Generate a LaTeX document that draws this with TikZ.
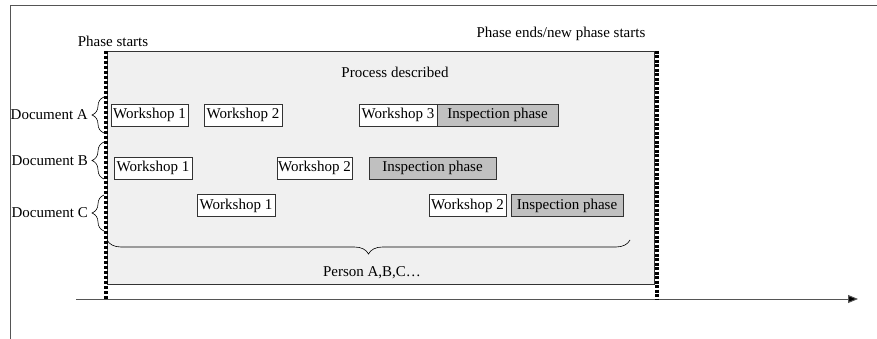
\documentclass[tikz,border=0pt]{standalone}
\usepackage{fontspec}
\setmainfont{Liberation Serif}
\usetikzlibrary{arrows.meta,decorations.pathreplacing}
\definecolor{boxline}{HTML}{333333}
\definecolor{procgray}{HTML}{F0F0F0}
\definecolor{inspgray}{HTML}{C0C0C0}
\definecolor{framegray}{HTML}{555555}
\tikzset{
  wbox/.style={draw=boxline, fill=white, line width=0.8pt, inner sep=0pt, minimum height=22pt},
  ibox/.style={wbox, fill=inspgray},
  phaseline/.style={line width=4pt, dash pattern=on 3pt off 2pt},
  phaseline2/.style={line width=4pt, dash pattern=on 3pt off 1.5pt},
  brc/.style={decorate, decoration={brace, amplitude=12pt}, draw=black, line width=0.6pt},
  lbl/.style={inner sep=0pt}
}
\begin{document}
\begin{tikzpicture}[x=1pt,y=-1pt,font=\fontsize{15}{18}\selectfont]
\useasboundingbox (0,0) rectangle (877,339);
% frame
\coordinate (f0) at (10,339);
\coordinate (f1) at (10,6);
\coordinate (f2) at (877,6);
\draw[framegray, line width=1pt] (f0) -- (f1) -- (f2);
% process box
\node[draw=boxline, fill=procgray, line width=0.8pt, minimum width=547pt, minimum height=233pt, anchor=north west, inner sep=0pt] (proc) at (107,51) {};
\node[lbl] (pd) at (395,72) {Process described};
% axis
\coordinate (ax0) at (76,299);
\coordinate (ax1) at (858,299);
\draw[framegray, line width=1pt, -{Triangle[length=10pt,width=8pt,fill=black]}] (ax0) -- (ax1);
% phase lines
\coordinate (ls0) at (106,51);
\coordinate (ls1) at (106,299);
\coordinate (le0) at (657,51);
\coordinate (le1) at (657,299);
\draw[phaseline] (ls0) -- (ls1);
\draw[phaseline2] (le0) -- (le1);
\node[lbl] (ps) at (113,41) {Phase starts};
\node[lbl] (pe) at (561,34) {Phase ends/new phase starts};
% row A
\node[wbox, minimum width=77pt] (a1) at (149.5,115) {Workshop 1};
\node[wbox, minimum width=78pt] (a2) at (243,115) {Workshop 2};
\node[wbox, minimum width=78pt] (a3) at (398,115) {Workshop 3};
\node[ibox, minimum width=121pt] (ai) at (497.5,115) {Inspection phase};
% row B
\node[wbox, minimum width=78pt] (b1) at (153,168) {Workshop 1};
\node[wbox, minimum width=75pt] (b2) at (314.5,168) {Workshop 2};
\node[ibox, minimum width=127pt] (bi) at (432.5,168) {Inspection phase};
% row C
\node[wbox, minimum width=78pt] (c1) at (236,205.5) {Workshop 1};
\node[wbox, minimum width=77pt] (c2) at (467.5,205.5) {Workshop 2};
\node[ibox, minimum width=112pt] (ci) at (567,205.5) {Inspection phase};
% documents with braces
\coordinate (bA0) at (104,133);
\coordinate (bA1) at (104,97);
\coordinate (bB0) at (104,179);
\coordinate (bB1) at (104,142);
\coordinate (bC0) at (104,231);
\coordinate (bC1) at (104,195);
\draw[brc] (bA0) -- (bA1);
\draw[brc] (bB0) -- (bB1);
\draw[brc] (bC0) -- (bC1);
\node[lbl, anchor=east] (dA) at (88,115) {Document A};
\node[lbl, anchor=east] (dB) at (88,161) {Document B};
\node[lbl, anchor=east] (dC) at (88,213) {Document C};
% persons brace
\coordinate (pb0) at (630,240);
\coordinate (pb1) at (107,240);
\draw[brc, decoration={brace, amplitude=14pt}] (pb0) -- (pb1);
\node[lbl] (per) at (372,273) {Person A,B,C…};
\end{tikzpicture}
\end{document}
